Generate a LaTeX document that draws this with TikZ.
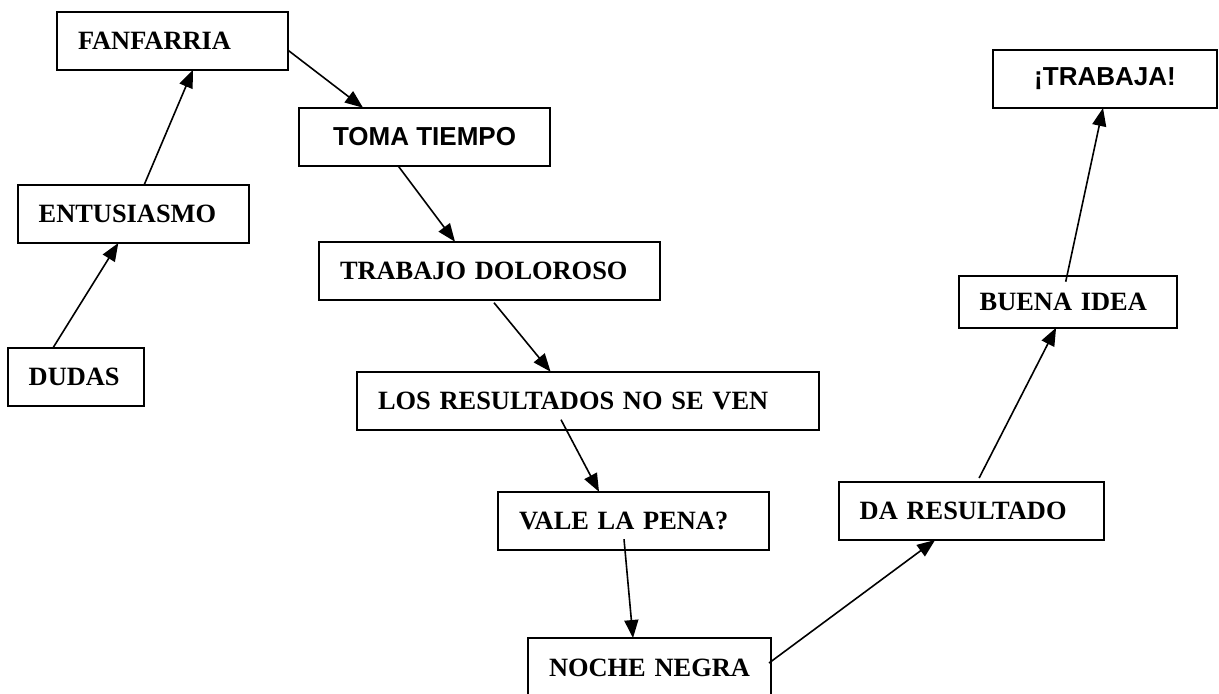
\documentclass[tikz,border=0pt]{standalone}
\usepackage{fontspec}
\setmainfont{Liberation Serif}
\newfontfamily\arialfont{Liberation Sans}
\usetikzlibrary{arrows.meta}
\tikzset{
	caja/.style={draw,line width=0.9pt,anchor=north west,outer sep=0pt,minimum height=29pt,inner xsep=10.5pt,inner ysep=0pt,align=left,text width=#1,font=\fontsize{13.2}{15}\selectfont\bfseries},
	cajasf/.style={draw,line width=0.9pt,anchor=north west,outer sep=0pt,minimum height=29pt,minimum width=#1,inner sep=0pt,font=\arialfont\fontsize{13}{15}\selectfont\bfseries},
	flecha/.style={line width=0.8pt,-{Triangle[length=9pt,width=7pt]}}
}
\begin{document}
\begin{tikzpicture}[x=0.5pt,y=-0.5pt]
	\useasboundingbox (0,0) rectangle (1219,693);
	\clip (0,0) rectangle (1219,693);
	\node[caja=94.5pt] (fanfarria) at (57,11.7) {FANFARRIA};
	\node[cajasf=125.5pt] (toma) at (299,107.7) {TOMA TIEMPO};
	\node[caja=94.5pt] (entusiasmo) at (17.7,185) {ENTUSIASMO};
	\node[caja=149.5pt] (trabajo) at (319,241.7) {TRABAJO DOLOROSO};
	\node[caja=47pt] (dudas) at (7.7,347.7) {DUDAS};
	\node[caja=210pt] (resultados) at (357,371.7) {LOS RESULTADOS NO SE VEN};
	\node[caja=114.5pt] (vale) at (498,491.7) {VALE LA PENA?};
	\node[caja=100.5pt,minimum height=29.5pt] (noche) at (528,638) {NOCHE NEGRA};
	\node[caja=111.7pt] (da) at (838.7,482) {DA RESULTADO};
	\node[caja=88pt,minimum height=26pt] (buena) at (958.7,275.7) {BUENA IDEA};
	\node[cajasf=112pt] (trabaja) at (993,50) {¡TRABAJA!};
	\draw[flecha] ([xshift=22.7pt]dudas.north west) -- ([xshift=50.3pt]entusiasmo.south west);
	\draw[flecha] ([xshift=63.2pt]entusiasmo.north west) -- ([xshift=68pt]fanfarria.south west);
	\draw[flecha] ([yshift=-4.75pt]fanfarria.east) -- ([xshift=32pt]toma.north west);
	\draw[flecha] ([xshift=49.5pt]toma.south west) -- ([xshift=68pt]trabajo.north west);
	\draw[flecha] ([xshift=87.5pt,yshift=-1.5pt]trabajo.south west) -- ([xshift=96.8pt]resultados.north west);
	\draw[flecha] ([xshift=102pt,yshift=5pt]resultados.south west) -- ([xshift=50.5pt]vale.north west);
	\draw[flecha] ([xshift=63pt,yshift=5.25pt]vale.south west) -- ([xshift=52.5pt]noche.north west);
	\draw[flecha] ([xshift=-1pt,yshift=-12.5pt]noche.north east) -- ([xshift=48.2pt]da.south west);
	\draw[flecha] ([xshift=70.2pt,yshift=2pt]da.north west) -- ([xshift=48.7pt]buena.south west);
	\draw[flecha] ([xshift=53.5pt,yshift=-3pt]buena.north west) -- ([xshift=55pt]trabaja.south west);
\end{tikzpicture}
\end{document}
